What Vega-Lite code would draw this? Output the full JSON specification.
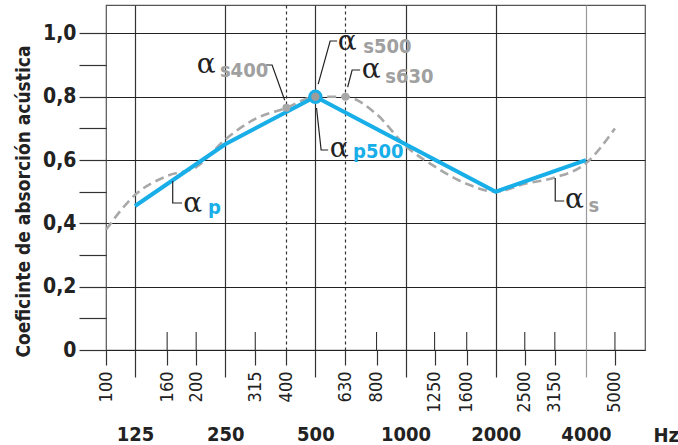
{
  "$schema": "https://vega.github.io/schema/vega-lite/v6.json",
  "width": 539,
  "height": 345,
  "autosize": "none",
  "padding": {"left": 106, "top": 5, "right": 33, "bottom": 95},
  "background": "white",
  "config": {
    "view": {"stroke": "#555", "strokeWidth": 1.2},
    "axis": {"labelColor": "#222", "titleColor": "#222"}
  },
  "datasets": {
    "p": [
      {"Hz": 125, "a": 0.455}, {"Hz": 250, "a": 0.65}, {"Hz": 500, "a": 0.8},
      {"Hz": 2000, "a": 0.5}, {"Hz": 4000, "a": 0.6}
    ],
    "s": [
      {"Hz": 100, "a": 0.38}, {"Hz": 125, "a": 0.49}, {"Hz": 160, "a": 0.55}, {"Hz": 200, "a": 0.578},
      {"Hz": 250, "a": 0.665}, {"Hz": 315, "a": 0.73}, {"Hz": 400, "a": 0.765}, {"Hz": 500, "a": 0.8},
      {"Hz": 630, "a": 0.8}, {"Hz": 800, "a": 0.745}, {"Hz": 1000, "a": 0.645}, {"Hz": 1250, "a": 0.58},
      {"Hz": 1600, "a": 0.525}, {"Hz": 2000, "a": 0.5}, {"Hz": 2500, "a": 0.525}, {"Hz": 3150, "a": 0.545},
      {"Hz": 4000, "a": 0.59}, {"Hz": 5000, "a": 0.7}
    ],
    "minor": [
      {"Hz": 160}, {"Hz": 200}, {"Hz": 315}, {"Hz": 800}, {"Hz": 1250}, {"Hz": 1600},
      {"Hz": 2500}, {"Hz": 3150}, {"Hz": 5000}
    ],
    "dots": [{"Hz": 400, "a": 0.765}, {"Hz": 630, "a": 0.8}],
    "alpha": [
      {"Hz": 181, "a": 0.436}, {"Hz": 201, "a": 0.875}, {"Hz": 594, "a": 0.948},
      {"Hz": 714, "a": 0.859}, {"Hz": 558, "a": 0.6098}, {"Hz": 3405, "a": 0.4487}
    ],
    "sub": [
      {"t": "p", "Hz": 219, "a": 0.43, "k": "p"},
      {"t": "s400", "Hz": 240, "a": 0.8626, "k": "s"},
      {"t": "s500", "Hz": 722, "a": 0.937, "k": "s"},
      {"t": "s630", "Hz": 855, "a": 0.8436, "k": "s"},
      {"t": "p500", "Hz": 668, "a": 0.6066, "k": "p"},
      {"t": "s", "Hz": 4080, "a": 0.436, "k": "s"}
    ],
    "leaders": [
      {"id": "p", "o": 1, "Hz": 167, "a": 0.534}, {"id": "p", "o": 2, "Hz": 167, "a": 0.4645}, {"id": "p", "o": 3, "Hz": 179.4, "a": 0.4645},
      {"id": "s400", "o": 1, "Hz": 342.3, "a": 0.9005}, {"id": "s400", "o": 2, "Hz": 358.5, "a": 0.9005}, {"id": "s400", "o": 3, "Hz": 395, "a": 0.789},
      {"id": "s500", "o": 1, "Hz": 590.9, "a": 0.9763}, {"id": "s500", "o": 2, "Hz": 560.1, "a": 0.9763}, {"id": "s500", "o": 3, "Hz": 510.9, "a": 0.8398},
      {"id": "s630", "o": 1, "Hz": 705.4, "a": 0.8847}, {"id": "s630", "o": 2, "Hz": 663.2, "a": 0.8847}, {"id": "s630", "o": 3, "Hz": 640.7, "a": 0.8306},
      {"id": "p500", "o": 1, "Hz": 551.5, "a": 0.6319}, {"id": "p500", "o": 2, "Hz": 522.6, "a": 0.6319}, {"id": "p500", "o": 3, "Hz": 504.4, "a": 0.7646},
      {"id": "s", "o": 1, "Hz": 3160, "a": 0.5434}, {"id": "s", "o": 2, "Hz": 3160, "a": 0.4708}, {"id": "s", "o": 3, "Hz": 3385, "a": 0.4708}
    ]
  },
  "resolve": {"axis": {"x": "independent", "y": "independent"}},
  "layer": [
    {
      "data": {"name": "minor"},
      "mark": {"type": "rule", "color": "#333", "strokeWidth": 1.1},
      "encoding": {
        "x": {"field": "Hz", "type": "quantitative", "scale": {"type": "log", "domain": [100, 6300], "nice": false}, "axis": null},
        "y": {"datum": 0, "type": "quantitative", "scale": {"domain": [0, 1.09], "nice": false}, "axis": null},
        "y2": {"datum": 0.057}
      }
    },
    {
      "data": {"name": "s"},
      "mark": {"type": "line", "color": "#a8a8a8", "strokeWidth": 2.6, "strokeDash": [9, 5], "interpolate": "monotone"},
      "encoding": {
        "x": {
          "field": "Hz", "type": "quantitative",
          "scale": {"type": "log", "domain": [100, 6300], "nice": false},
          "axis": {
            "orient": "bottom",
            "values": [100, 125, 160, 200, 250, 315, 400, 500, 630, 800, 1000, 1250, 1600, 2000, 2500, 3150, 4000, 5000],
            "title": null,
            "domain": false,
            "grid": true,
            "gridOpacity": {"condition": {"test": "indexof([125,250,500,1000,2000,4000,400,630], datum.value) >= 0", "value": 1}, "value": 0},
            "gridDash": {"condition": {"test": "datum.value == 400 || datum.value == 630", "value": [3, 3]}, "value": []},
            "gridColor": {"condition": {"test": "datum.value == 4000", "value": "#9a9a9a"}, "value": "#333"},
            "gridWidth": 1.2,
            "tickSize": {"condition": {"test": "indexof([125,250,500,1000,2000,4000], datum.value) >= 0", "value": 27}, "value": 15},
            "tickColor": {"condition": {"test": "datum.value == 4000", "value": "#9a9a9a"}, "value": "#333"},
            "tickWidth": 1.2,
            "labelExpr": "indexof([125,250,500,1000,2000,4000], datum.value) >= 0 ? '' : format(datum.value, 'd')",
            "labelAngle": 270,
            "labelAlign": "right",
            "labelBaseline": "middle",
            "labelFont": "DejaVu Sans Condensed, sans-serif",
            "labelFontSize": 18,
            "labelPadding": 6,
            "labelOverlap": false,
            "labelFlush": false
          }
        },
        "y": {
          "field": "a", "type": "quantitative",
          "scale": {"domain": [0, 1.09], "nice": false},
          "axis": {
            "orient": "left",
            "values": [0, 0.1, 0.2, 0.3, 0.4, 0.5, 0.6, 0.7, 0.8, 0.9, 1.0],
            "domain": false,
            "grid": true,
            "gridOpacity": {"condition": {"test": "round(datum.value*10) % 2 == 1", "value": 0}, "value": 1},
            "gridColor": "#222",
            "gridWidth": 1.2,
            "tickSize": 27,
            "tickColor": "#333",
            "tickWidth": 1.2,
            "labelExpr": "round(datum.value*10) % 2 == 1 ? '' : (datum.value == 0 ? '0' : replace(format(datum.value, '.1f'), '.', ','))",
            "labelFont": "DejaVu Sans Condensed, sans-serif",
            "labelFontWeight": "bold",
            "labelFontSize": 21,
            "labelPadding": 3,
            "labelOverlap": false,
            "labelFlush": false,
            "title": "Coeficinte de absorción acústica",
            "titleFont": "DejaVu Sans Condensed, sans-serif",
            "titleFontWeight": "bold",
            "titleFontSize": 19,
            "titleAngle": 270,
            "titleX": -83,
            "titleY": 196,
            "titleAlign": "center",
            "titleBaseline": "middle"
          }
        }
      }
    },
    {
      "data": {"name": "p"},
      "mark": {"type": "line", "color": "#18aee8", "strokeWidth": 4},
      "encoding": {
        "x": {
          "field": "Hz", "type": "quantitative",
          "scale": {"type": "log", "domain": [100, 6300], "nice": false},
          "axis": {
            "orient": "bottom",
            "values": [125, 250, 500, 1000, 2000, 4000],
            "domain": false,
            "grid": false,
            "ticks": false,
            "labelExpr": "format(datum.value, 'd')",
            "labelAngle": 0,
            "labelAlign": "center",
            "labelBaseline": "top",
            "labelFont": "DejaVu Sans Condensed, sans-serif",
            "labelFontWeight": "bold",
            "labelFontSize": 20,
            "labelPadding": 74,
            "labelOverlap": false,
            "labelFlush": false,
            "title": "Hz",
            "titleFont": "DejaVu Sans Condensed, sans-serif",
            "titleFontWeight": "bold",
            "titleFontSize": 20,
            "titleX": 547,
            "titleY": 91,
            "titleAlign": "left",
            "titleBaseline": "alphabetic"
          }
        },
        "y": {"field": "a", "type": "quantitative", "scale": {"domain": [0, 1.09], "nice": false}, "axis": null}
      }
    },
    {
      "data": {"name": "dots"},
      "mark": {"type": "point", "filled": true, "color": "#a8a8a8", "size": 64, "opacity": 1},
      "encoding": {
        "x": {"field": "Hz", "type": "quantitative", "scale": {"type": "log", "domain": [100, 6300], "nice": false}, "axis": null},
        "y": {"field": "a", "type": "quantitative", "scale": {"domain": [0, 1.09], "nice": false}, "axis": null}
      }
    },
    {
      "data": {"name": "p"},
      "transform": [{"filter": "datum.Hz == 500"}],
      "mark": {"type": "point", "filled": false, "fill": "#9c9c9c", "stroke": "#18aee8", "strokeWidth": 3, "size": 130, "opacity": 1, "fillOpacity": 1},
      "encoding": {
        "x": {"field": "Hz", "type": "quantitative", "scale": {"type": "log", "domain": [100, 6300], "nice": false}, "axis": null},
        "y": {"field": "a", "type": "quantitative", "scale": {"domain": [0, 1.09], "nice": false}, "axis": null}
      }
    },
    {
      "data": {"name": "leaders"},
      "mark": {"type": "line", "color": "#222", "strokeWidth": 1.2},
      "encoding": {
        "x": {"field": "Hz", "type": "quantitative", "scale": {"type": "log", "domain": [100, 6300], "nice": false}, "axis": null},
        "y": {"field": "a", "type": "quantitative", "scale": {"domain": [0, 1.09], "nice": false}, "axis": null},
        "detail": {"field": "id"},
        "order": {"field": "o"}
      }
    },
    {
      "mark": {"type": "point", "shape": "triangle-down", "filled": true, "color": "#222", "size": 50, "opacity": 1, "angle": -19},
      "encoding": {
        "x": {"datum": 395, "type": "quantitative", "scale": {"type": "log", "domain": [100, 6300], "nice": false}, "axis": null},
        "y": {"datum": 0.789, "type": "quantitative", "scale": {"domain": [0, 1.09], "nice": false}, "axis": null}
      }
    },
    {
      "mark": {"type": "point", "shape": "triangle-down", "filled": true, "color": "#222", "size": 50, "opacity": 1, "angle": 15},
      "encoding": {
        "x": {"datum": 510.9, "type": "quantitative", "scale": {"type": "log", "domain": [100, 6300], "nice": false}, "axis": null},
        "y": {"datum": 0.8398, "type": "quantitative", "scale": {"domain": [0, 1.09], "nice": false}, "axis": null}
      }
    },
    {
      "mark": {"type": "point", "shape": "triangle-down", "filled": true, "color": "#222", "size": 50, "opacity": 1, "angle": 15},
      "encoding": {
        "x": {"datum": 640.7, "type": "quantitative", "scale": {"type": "log", "domain": [100, 6300], "nice": false}, "axis": null},
        "y": {"datum": 0.8306, "type": "quantitative", "scale": {"domain": [0, 1.09], "nice": false}, "axis": null}
      }
    },
    {
      "mark": {"type": "point", "shape": "triangle-up", "filled": true, "color": "#222", "size": 50, "opacity": 1, "angle": -6},
      "encoding": {
        "x": {"datum": 504.4, "type": "quantitative", "scale": {"type": "log", "domain": [100, 6300], "nice": false}, "axis": null},
        "y": {"datum": 0.7646, "type": "quantitative", "scale": {"domain": [0, 1.09], "nice": false}, "axis": null}
      }
    },
    {
      "data": {"name": "alpha"},
      "mark": {"type": "text", "text": "α", "font": "DejaVu Serif, serif", "fontSize": 28, "color": "#222", "align": "left", "baseline": "alphabetic"},
      "encoding": {
        "x": {"field": "Hz", "type": "quantitative", "scale": {"type": "log", "domain": [100, 6300], "nice": false}, "axis": null},
        "y": {"field": "a", "type": "quantitative", "scale": {"domain": [0, 1.09], "nice": false}, "axis": null}
      }
    },
    {
      "data": {"name": "sub"},
      "mark": {"type": "text", "font": "DejaVu Sans Condensed, sans-serif", "fontWeight": "bold", "fontSize": 20, "align": "left", "baseline": "alphabetic"},
      "encoding": {
        "x": {"field": "Hz", "type": "quantitative", "scale": {"type": "log", "domain": [100, 6300], "nice": false}, "axis": null},
        "y": {"field": "a", "type": "quantitative", "scale": {"domain": [0, 1.09], "nice": false}, "axis": null},
        "text": {"field": "t"},
        "color": {"field": "k", "type": "nominal", "scale": {"domain": ["p", "s"], "range": ["#18aee8", "#a0a0a0"]}, "legend": null}
      }
    }
  ]
}
